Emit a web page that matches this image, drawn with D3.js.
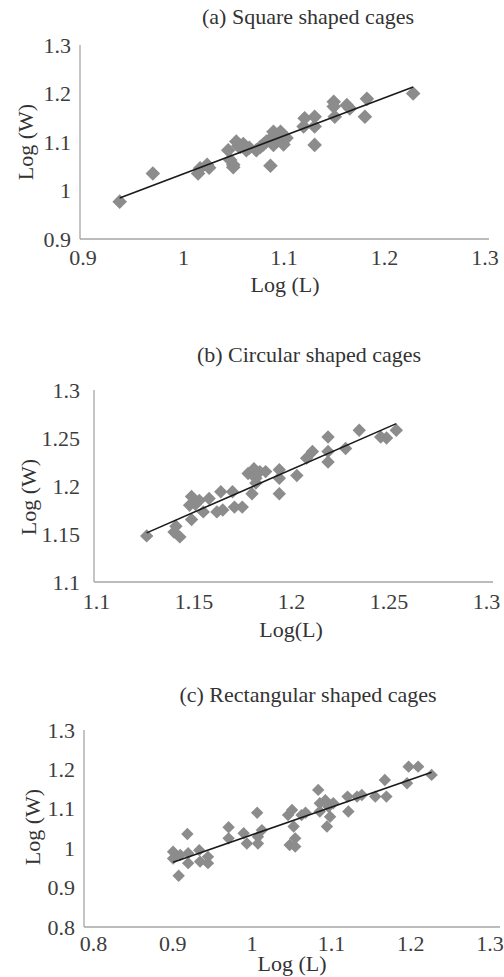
<!DOCTYPE html>
<html lang="en">
<head>
    <meta charset="UTF-8">
    <title>Log (W) vs Log (L) by cage shape</title>
    <script src="https://d3js.org/d3.v7.min.js"></script>
    <style>
        body {
            margin: 0;
            background-color: #ffffff;
        }

        svg {
            display: block;
            font-family: "Liberation Serif", "Times New Roman", serif;
        }

        .tick-label {
            font-size: 22px;
            fill: #3d3d3d;
        }

        .axis-line {
            stroke: #a6a6a6;
            stroke-width: 1.3px;
        }

        .title, .axis-title {
            font-size: 22px;
            fill: #333333;
            text-anchor: middle;
        }

        .point {
            fill: #8c8c8c;
        }

        .trend {
            fill: none;
            stroke: #1a1a1a;
            stroke-width: 1.6px;
        }
    </style>
</head>
<body>
<svg width="504" height="977"></svg>
<script>
    // [Log (L), Log (W)]
    const squareCages = [
        [0.937, 0.977], [0.970, 1.035], [1.015, 1.035], [1.017, 1.046], [1.024, 1.053],
        [1.026, 1.047], [1.045, 1.083], [1.047, 1.063], [1.050, 1.053], [1.050, 1.048],
        [1.053, 1.101], [1.055, 1.092], [1.057, 1.090], [1.060, 1.096], [1.063, 1.083],
        [1.066, 1.088], [1.073, 1.083], [1.077, 1.090], [1.080, 1.095], [1.083, 1.101],
        [1.087, 1.051], [1.088, 1.108], [1.090, 1.121], [1.090, 1.094], [1.093, 1.101],
        [1.095, 1.115], [1.097, 1.121], [1.100, 1.114], [1.100, 1.095], [1.103, 1.108],
        [1.120, 1.132], [1.121, 1.149], [1.131, 1.152], [1.131, 1.132], [1.131, 1.094],
        [1.150, 1.183], [1.150, 1.173], [1.151, 1.152], [1.163, 1.176], [1.166, 1.169],
        [1.181, 1.152], [1.183, 1.189], [1.229, 1.200]
    ];

    const circularCages = [
        [1.126, 1.148], [1.140, 1.152], [1.141, 1.158], [1.143, 1.147], [1.148, 1.180],
        [1.149, 1.165], [1.149, 1.189], [1.151, 1.181], [1.153, 1.185], [1.155, 1.173],
        [1.158, 1.187], [1.162, 1.173], [1.164, 1.194], [1.165, 1.175], [1.170, 1.194],
        [1.171, 1.178], [1.175, 1.178], [1.178, 1.213], [1.180, 1.192], [1.181, 1.218],
        [1.182, 1.208], [1.182, 1.203], [1.184, 1.215], [1.187, 1.215], [1.194, 1.217],
        [1.194, 1.192], [1.194, 1.208], [1.203, 1.211], [1.208, 1.229], [1.211, 1.236],
        [1.219, 1.251], [1.219, 1.236], [1.219, 1.225], [1.228, 1.239], [1.235, 1.258],
        [1.246, 1.251], [1.249, 1.250], [1.254, 1.258]
    ];

    const rectangularCages = [
        [0.901, 0.991], [0.901, 0.974], [0.908, 0.930], [0.910, 0.983], [0.919, 1.036],
        [0.920, 0.987], [0.920, 0.962], [0.934, 0.995], [0.935, 0.966], [0.945, 0.978],
        [0.945, 0.962], [0.971, 1.053], [0.971, 1.025], [0.990, 1.038], [0.994, 1.012],
        [1.007, 1.090], [1.008, 1.029], [1.008, 1.012], [1.013, 1.046], [1.046, 1.084],
        [1.048, 1.008], [1.051, 1.097], [1.053, 1.055], [1.055, 1.025], [1.055, 1.004],
        [1.063, 1.084], [1.068, 1.090], [1.084, 1.148], [1.086, 1.114], [1.086, 1.093],
        [1.093, 1.122], [1.095, 1.055], [1.097, 1.105], [1.099, 1.080], [1.103, 1.114],
        [1.121, 1.131], [1.122, 1.093], [1.133, 1.131], [1.139, 1.135], [1.156, 1.131],
        [1.168, 1.173], [1.170, 1.131], [1.196, 1.165], [1.198, 1.207], [1.210, 1.207],
        [1.227, 1.186]
    ];

    const titles = ["(a) Square shaped cages", "(b) Circular shaped cages", "(c) Rectangular shaped cages"];
    const xTitles = ["Log (L)", "Log(L)", "Log (L)"];
    const yTitle = "Log (W)";

    const squareXTicks = [0.9, 1.0, 1.1, 1.2, 1.3];
    const squareYTicks = [0.9, 1.0, 1.1, 1.2, 1.3];
    const circularXTicks = [1.1, 1.15, 1.2, 1.25, 1.3];
    const circularYTicks = [1.1, 1.15, 1.2, 1.25, 1.3];
    const rectXTicks = [0.8, 0.9, 1.0, 1.1, 1.2, 1.3];
    const rectYTicks = [0.8, 0.9, 1.0, 1.1, 1.2, 1.3];

    const svg = d3.select("svg");
    const fmt = d => String(+d.toFixed(2));
    const serif = '"Liberation Serif", "Times New Roman", serif';

    // pixel layout of each panel
    const panels = [
        {data: squareCages, xTicks: squareXTicks, yTicks: squareYTicks,
         xRange: [82.5, 484.5], yRange: [239, 45], axisX: 80, axisEnd: 489,
         titleX: 308, titleY: 24, xTitleX: 285, xTitleY: 292, yTitleX: 25, yTitleY: 142,
         xTickY: 265, yTickGap: 9, half: 7.3},
        {data: circularCages, xTicks: circularXTicks, yTicks: circularYTicks,
         xRange: [96, 486], yRange: [582, 390], axisX: 94, axisEnd: 493,
         titleX: 309, titleY: 362, xTitleX: 291, xTitleY: 637, yTitleX: 28, yTitleY: 497,
         xTickY: 609, yTickGap: 14, half: 6.7},
        {data: rectangularCages, xTicks: rectXTicks, yTicks: rectYTicks,
         xRange: [93, 489.5], yRange: [927, 730], axisX: 84, axisEnd: 500,
         titleX: 308, titleY: 702, xTitleX: 292, xTitleY: 971, yTitleX: 32, yTitleY: 827,
         xTickY: 951, yTickGap: 9, half: 6.2}
    ];

    panels.forEach(function(p, i) {
        const x = d3.scaleLinear()
            .domain([p.xTicks[0], p.xTicks[p.xTicks.length - 1]])
            .range(p.xRange);
        const y = d3.scaleLinear()
            .domain([p.yTicks[0], p.yTicks[p.yTicks.length - 1]])
            .range(p.yRange);

        const g = svg.append("g");

        // axis lines
        g.append("line")
            .attr("class", "axis-line")
            .attr("x1", p.axisX).attr("x2", p.axisX)
            .attr("y1", y.range()[0]).attr("y2", y.range()[1]);
        g.append("line")
            .attr("class", "axis-line")
            .attr("x1", p.axisX).attr("x2", p.axisEnd)
            .attr("y1", y.range()[0]).attr("y2", y.range()[0]);

        // tick labels
        const xAxis = g.append("g")
            .attr("transform", `translate(0,${p.xTickY})`)
            .call(d3.axisBottom(x).tickValues(p.xTicks).tickFormat(fmt).tickSize(0).tickPadding(0));
        xAxis.select(".domain").remove();
        xAxis.selectAll(".tick text").attr("dy", 0).attr("y", 0);

        const yAxis = g.append("g")
            .attr("transform", `translate(${p.axisX},0)`)
            .call(d3.axisLeft(y).tickValues(p.yTicks).tickFormat(fmt).tickSize(0).tickPadding(p.yTickGap));
        yAxis.select(".domain").remove();

        [xAxis, yAxis].forEach(a => {
            a.attr("font-family", serif).attr("font-size", 22);
            a.selectAll(".tick text")
                .attr("class", "tick-label")
                .style("font-family", serif)
                .attr("fill", "#3d3d3d");
        });

        // linear trend line, least squares over the points
        const mx = d3.mean(p.data, d => d[0]), my = d3.mean(p.data, d => d[1]);
        const slope = d3.sum(p.data, d => (d[0] - mx) * (d[1] - my)) / d3.sum(p.data, d => (d[0] - mx) ** 2);
        const ext = d3.extent(p.data, d => d[0]);
        const trend = ext.map(v => [v, my + slope * (v - mx)]);

        g.selectAll(".point")
            .data(p.data)
            .join("path")
            .attr("class", "point")
            .attr("transform", d => `translate(${x(d[0])},${y(d[1])})`)
            .attr("d", `M0,${-p.half}L${p.half},0L0,${p.half}L${-p.half},0Z`);

        g.append("path")
            .datum(trend)
            .attr("class", "trend")
            .attr("d", d3.line().x(d => x(d[0])).y(d => y(d[1])));

        // titles
        g.append("text")
            .attr("class", "title")
            .attr("x", p.titleX).attr("y", p.titleY)
            .text(titles[i]);
        g.append("text")
            .attr("class", "axis-title")
            .attr("x", p.xTitleX).attr("y", p.xTitleY)
            .text(xTitles[i]);
        g.append("text")
            .attr("class", "axis-title")
            .attr("transform", `translate(${p.yTitleX},${p.yTitleY}) rotate(-90)`)
            .attr("dy", "0.35em")
            .text(yTitle);
    });
</script>
</body>
</html>
